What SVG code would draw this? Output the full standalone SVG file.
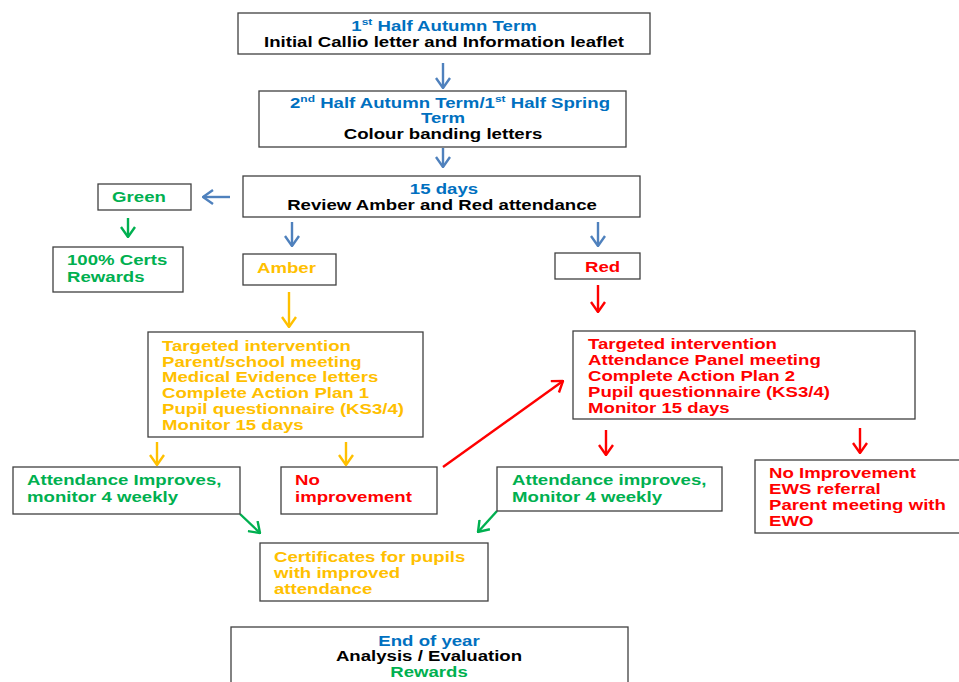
<svg xmlns="http://www.w3.org/2000/svg" width="959" height="682" viewBox="0 0 959 682">
<defs>
<marker id="ahb" viewBox="0 0 12 16" refX="11" refY="8" markerWidth="12" markerHeight="16" markerUnits="userSpaceOnUse" orient="auto"><path d="M1,1 L11,8 L1,15" fill="none" stroke="#4F81BD" stroke-width="2.4"/></marker>
<marker id="ahg" viewBox="0 0 12 16" refX="11" refY="8" markerWidth="12" markerHeight="16" markerUnits="userSpaceOnUse" orient="auto"><path d="M1,1 L11,8 L1,15" fill="none" stroke="#00B050" stroke-width="2.4"/></marker>
<marker id="aha" viewBox="0 0 12 16" refX="11" refY="8" markerWidth="12" markerHeight="16" markerUnits="userSpaceOnUse" orient="auto"><path d="M1,1 L11,8 L1,15" fill="none" stroke="#FFC000" stroke-width="2.4"/></marker>
<marker id="ahr" viewBox="0 0 12 16" refX="11" refY="8" markerWidth="12" markerHeight="16" markerUnits="userSpaceOnUse" orient="auto"><path d="M1,1 L11,8 L1,15" fill="none" stroke="#FF0000" stroke-width="2.4"/></marker>
</defs>
<style>
rect { fill: #fff; stroke: #404040; stroke-width: 1.3; }
text { font-family: "Liberation Sans", Arial, sans-serif; font-weight: bold; font-size: 14px; }
.c { text-anchor: middle; }
.bl { fill: #0070C0; }
.k { fill: #000; }
.g { fill: #00B050; }
.a { fill: #FFC000; }
.r { fill: #FF0000; }
.lb { stroke: #4F81BD; stroke-width: 2.4; fill: none; marker-end: url(#ahb); }
.lg { stroke: #00B050; stroke-width: 2.4; fill: none; marker-end: url(#ahg); }
.la { stroke: #FFC000; stroke-width: 2.4; fill: none; marker-end: url(#aha); }
.lr { stroke: #FF0000; stroke-width: 2.4; fill: none; marker-end: url(#ahr); }
</style>
<rect x="0" y="0" width="959" height="682" style="fill:#fff;stroke:none"/>

<g id="connectors">
<line class="lb" x1="443" y1="63" x2="443" y2="88"/>
<line class="lb" x1="443" y1="148" x2="443" y2="167"/>
<line class="lb" x1="230" y1="197" x2="203" y2="197"/>
<line class="lg" x1="128" y1="218" x2="128" y2="237"/>
<line class="lb" x1="292" y1="222" x2="292" y2="246"/>
<line class="lb" x1="598" y1="222" x2="598" y2="246"/>
<line class="la" x1="289" y1="292" x2="289" y2="327"/>
<line class="lr" x1="598" y1="285" x2="598" y2="312"/>
<line class="la" x1="157" y1="442" x2="157" y2="465"/>
<line class="la" x1="346" y1="442" x2="346" y2="465"/>
<line class="lr" x1="443" y1="467" x2="563" y2="381"/>
<line class="lr" x1="606" y1="430" x2="606" y2="455"/>
<line class="lr" x1="860" y1="428" x2="860" y2="453"/>
<line class="lg" x1="240" y1="514" x2="260" y2="533"/>
<line class="lg" x1="497" y1="511" x2="478" y2="532"/>
</g>

<g id="n1">
<rect x="238" y="13" width="412" height="41"/>
<text class="c bl" transform="translate(444,31) scale(1.33,1)">1<tspan font-size="9" dy="-6">st</tspan><tspan dy="6"> Half Autumn Term</tspan></text>
<text class="c k" transform="translate(444,47) scale(1.33,1)">Initial Callio letter and Information leaflet</text>
</g>

<g id="n2">
<rect x="259" y="91" width="367" height="56"/>
<text class="c bl" transform="translate(450,108) scale(1.33,1)">2<tspan font-size="9" dy="-6">nd</tspan><tspan dy="6"> Half Autumn Term/1</tspan><tspan font-size="9" dy="-6">st</tspan><tspan dy="6"> Half Spring</tspan></text>
<text class="c bl" transform="translate(443,123) scale(1.33,1)">Term</text>
<text class="c k" transform="translate(443,139) scale(1.33,1)">Colour banding letters</text>
</g>

<g id="n3">
<rect x="243" y="176" width="397" height="41"/>
<text class="c bl" transform="translate(444,194) scale(1.33,1)">15 days</text>
<text class="c k" transform="translate(442,210) scale(1.33,1)">Review Amber and Red attendance</text>
</g>

<g id="green">
<rect x="98" y="184" width="93" height="26"/>
<text class="c g" transform="translate(139,202) scale(1.33,1)">Green</text>
</g>

<g id="certs100">
<rect x="53" y="247" width="130" height="45"/>
<text class="g" transform="translate(67,265) scale(1.33,1)">100% Certs</text>
<text class="g" transform="translate(67,282) scale(1.33,1)">Rewards</text>
</g>

<g id="amber">
<rect x="243" y="254" width="93" height="31"/>
<text class="a" transform="translate(257,273) scale(1.33,1)">Amber</text>
</g>

<g id="red">
<rect x="555" y="253" width="85" height="26"/>
<text class="r" transform="translate(585,272) scale(1.33,1)">Red</text>
</g>

<g id="amberPlan">
<rect x="148" y="332" width="275" height="105"/>
<text class="a" transform="translate(162,351) scale(1.33,1)">Targeted intervention</text>
<text class="a" transform="translate(162,367) scale(1.33,1)">Parent/school meeting</text>
<text class="a" transform="translate(162,382) scale(1.33,1)">Medical Evidence letters</text>
<text class="a" transform="translate(162,398) scale(1.33,1)">Complete Action Plan 1</text>
<text class="a" transform="translate(162,414) scale(1.33,1)">Pupil questionnaire (KS3/4)</text>
<text class="a" transform="translate(162,430) scale(1.33,1)">Monitor 15 days</text>
</g>

<g id="redPlan">
<rect x="573" y="331" width="342" height="88"/>
<text class="r" transform="translate(588,349) scale(1.33,1)">Targeted intervention</text>
<text class="r" transform="translate(588,365) scale(1.33,1)">Attendance Panel meeting</text>
<text class="r" transform="translate(588,381) scale(1.33,1)">Complete Action Plan 2</text>
<text class="r" transform="translate(588,397) scale(1.33,1)">Pupil questionnaire (KS3/4)</text>
<text class="r" transform="translate(588,413) scale(1.33,1)">Monitor 15 days</text>
</g>

<g id="improvesLeft">
<rect x="13" y="467" width="227" height="47"/>
<text class="g" transform="translate(27,485) scale(1.33,1)">Attendance Improves,</text>
<text class="g" transform="translate(27,502) scale(1.33,1)">monitor 4 weekly</text>
</g>

<g id="noImprovement">
<rect x="281" y="467" width="156" height="47"/>
<text class="r" transform="translate(295,485) scale(1.33,1)">No</text>
<text class="r" transform="translate(295,502) scale(1.33,1)">improvement</text>
</g>

<g id="improvesRight">
<rect x="497" y="467" width="225" height="44"/>
<text class="g" transform="translate(512,485) scale(1.33,1)">Attendance improves,</text>
<text class="g" transform="translate(512,502) scale(1.33,1)">Monitor 4 weekly</text>
</g>

<g id="ews">
<rect x="755" y="460" width="210" height="73"/>
<text class="r" transform="translate(769,478) scale(1.33,1)">No Improvement</text>
<text class="r" transform="translate(769,494) scale(1.33,1)">EWS referral</text>
<text class="r" transform="translate(769,510) scale(1.33,1)">Parent meeting with</text>
<text class="r" transform="translate(769,526) scale(1.33,1)">EWO</text>
</g>

<g id="certificates">
<rect x="260" y="543" width="228" height="58"/>
<text class="a" transform="translate(274,562) scale(1.33,1)">Certificates for pupils</text>
<text class="a" transform="translate(274,578) scale(1.33,1)">with improved</text>
<text class="a" transform="translate(274,594) scale(1.33,1)">attendance</text>
</g>

<g id="endOfYear">
<rect x="231" y="627" width="397" height="70"/>
<text class="c bl" transform="translate(429,646) scale(1.33,1)">End of year</text>
<text class="c k" transform="translate(429,661) scale(1.33,1)">Analysis / Evaluation</text>
<text class="c g" transform="translate(429,677) scale(1.33,1)">Rewards</text>
</g>
</svg>
